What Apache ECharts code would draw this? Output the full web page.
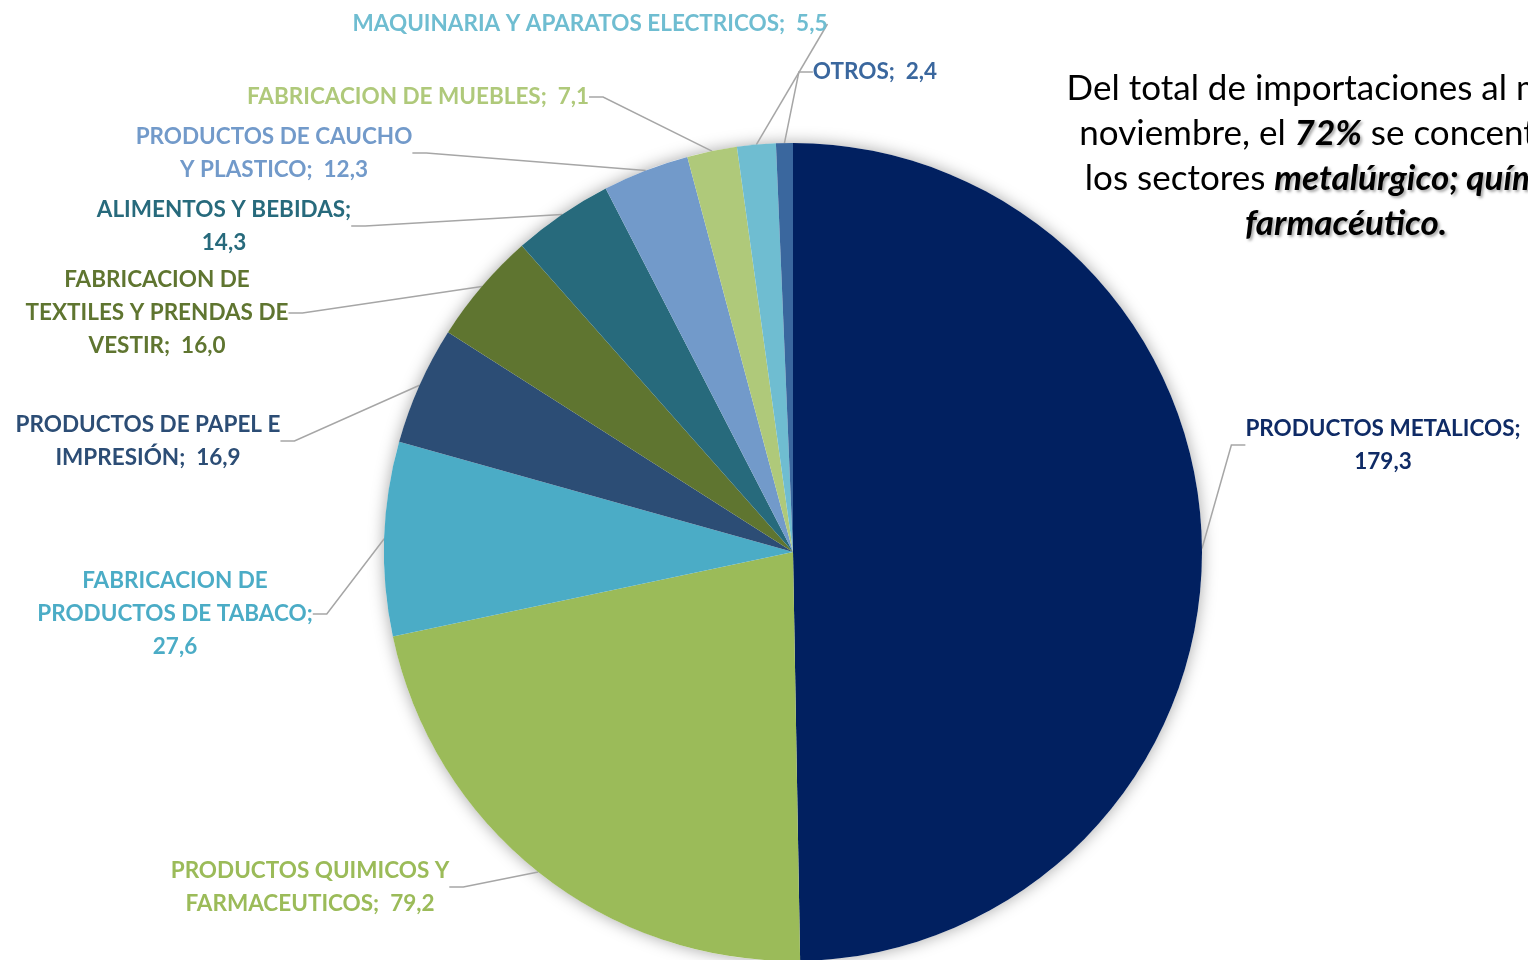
<!DOCTYPE html>
<html>
<head>
<meta charset="utf-8">
<script src="https://cdn.jsdelivr.net/npm/echarts@6/dist/echarts.min.js"></script>
<style>
  html, body { margin: 0; padding: 0; background: #fff; }
  #chart { width: 1528px; height: 960px; }
</style>
</head>
<body>
<div id="chart"></div>
<script>
// sectores y valores (millones)
var sectores = [
  'PRODUCTOS METALICOS',
  'PRODUCTOS QUIMICOS Y\nFARMACEUTICOS',
  'FABRICACION DE\nPRODUCTOS DE TABACO',
  'PRODUCTOS DE PAPEL E\nIMPRESIÓN',
  'FABRICACION DE\nTEXTILES Y PRENDAS DE\nVESTIR',
  'ALIMENTOS Y BEBIDAS',
  'PRODUCTOS DE CAUCHO\nY PLASTICO',
  'FABRICACION DE MUEBLES',
  'MAQUINARIA Y APARATOS ELECTRICOS',
  'OTROS'
]
var valores = [179.3, 79.2, 27.6, 16.9, 16.0, 14.3, 12.3, 7.1, 5.5, 2.4]
// valor en linea aparte?
var saltoValor = [true, false, true, false, false, true, false, false, false, false]

var colores = ['#012060', '#9BBB59', '#4BACC6', '#2C4D75', '#5F7530',
  '#276A7C', '#729ACA', '#AFC97A', '#6FBDD1', '#3A679E']
var coloresLabel = ['#0F2B66', '#9BBB59', '#4BACC6', '#2C4D75', '#5F7530',
  '#276A7C', '#729ACA', '#AFC97A', '#6FBDD1', '#3A679E']

// posiciones de las etiquetas (centro del bloque de texto)
var posLabel = [
  [1383, 445], [310, 887], [175, 614], [148, 441], [157, 313],
  [224, 226], [274, 153], [418, 97], [590, 24], [875, 72]
]

var chart = echarts.init(document.getElementById('chart'))

var datos = sectores.map(function (s, i) {
  return {
    name: s,
    value: valores[i],
    itemStyle: { color: colores[i] },
    label: { color: coloresLabel[i] }
  }
})

chart.setOption({
  backgroundColor: '#fff',
  animation: false,
  graphic: [{
    type: 'text',
    x: 1346,
    y: 66,
    style: {
      text: 'Del total de importaciones al mes de\n' +
        'noviembre, el {b|72%} se concentra en\n' +
        'los sectores {b|metalúrgico; químico y}\n' +
        '{b|farmacéutico.}',
      align: 'center',
      verticalAlign: 'top',
      fontFamily: 'Lato',
      fontSize: 35,
      lineHeight: 45,
      fill: '#000',
      rich: {
        b: {
          fontFamily: 'Lato',
          fontSize: 35,
          lineHeight: 45,
          fontWeight: 'bold',
          fontStyle: 'italic',
          textShadowColor: 'rgba(0,0,0,0.35)',
          textShadowBlur: 3,
          textShadowOffsetX: 2,
          textShadowOffsetY: 2
        }
      }
    }
  }],
  series: [
    {
      // sombra del pastel
      type: 'pie',
      silent: true,
      center: [793, 552],
      radius: 409,
      z: 1,
      label: { show: false },
      labelLine: { show: false },
      itemStyle: {
        color: '#fff',
        shadowBlur: 16,
        shadowColor: 'rgba(0,0,0,0.35)'
      },
      data: [{ value: 1 }]
    },
    {
      type: 'pie',
      center: [793, 552],
      radius: 409,
      startAngle: 90,
      clockwise: true,
      z: 2,
      itemStyle: { borderWidth: 0 },
      label: {
        show: true,
        position: 'outside',
        fontFamily: 'Lato',
        fontWeight: 'bold',
        fontSize: 22.5,
        lineHeight: 33,
        align: 'center',
        formatter: function (p) {
          var v = p.value.toFixed(1).replace('.', ',')
          return p.name + (saltoValor[p.dataIndex] ? ';\n' : ';  ') + v
        }
      },
      labelLine: {
        show: true,
        length: 20,
        length2: 14,
        lineStyle: { color: '#A6A6A6', width: 1.5 }
      },
      labelLayout: function (p) {
        var pos = posLabel[p.dataIndex]
        return {
          x: pos[0],
          y: pos[1],
          align: 'center',
          verticalAlign: 'middle',
          hideOverlap: false
        }
      },
      data: datos
    }
  ]
})

window.addEventListener('resize', function () {
  chart.resize()
})
</script>
</body>
</html>
